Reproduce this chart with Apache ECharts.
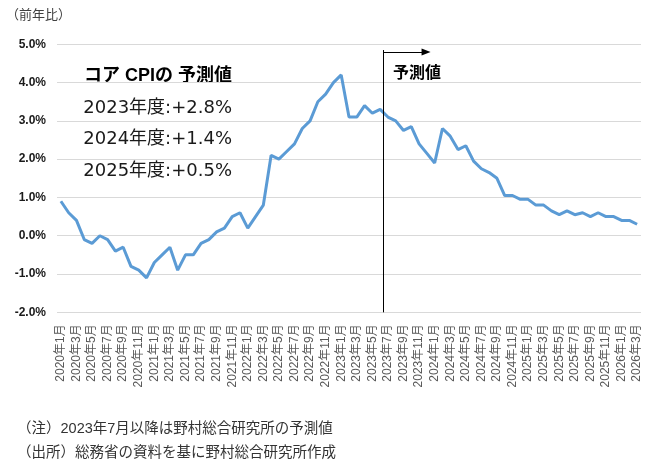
<!DOCTYPE html>
<html>
<head>
<meta charset="utf-8">
<script src="https://cdn.jsdelivr.net/npm/echarts@6/dist/echarts.min.js"></script>
<style>
html,body{margin:0;padding:0;background:#fff;}
#chart{width:655px;height:472px;}
</style>
</head>
<body>
<div id="chart"></div>
<script>
// ---- data ----
const startYear = 2020;
const monthCount = 75; // 2020年1月 .. 2026年3月
const v2020 = [0.9, 0.6, 0.4, -0.1, -0.2, 0.0, -0.1, -0.4, -0.3, -0.8, -0.9, -1.1];
const v2021 = [-0.7, -0.5, -0.3, -0.9, -0.5, -0.5, -0.2, -0.1, 0.1, 0.2, 0.5, 0.6];
const v2022 = [0.2, 0.5, 0.8, 2.1, 2.0, 2.2, 2.4, 2.8, 3.0, 3.5, 3.7, 4.0];
const v2023 = [4.2, 3.1, 3.1, 3.4, 3.2, 3.3, 3.1, 3.0, 2.75, 2.85, 2.4, 2.15];
const v2024 = [1.9, 2.8, 2.6, 2.25, 2.35, 1.95, 1.75, 1.65, 1.5, 1.05, 1.05, 0.95];
const v2025 = [0.95, 0.8, 0.8, 0.65, 0.55, 0.65, 0.55, 0.6, 0.5, 0.6, 0.5, 0.5];
const v2026 = [0.4, 0.4, 0.3];
const forecastStart = 41.4;   // position of the forecast divider (category index)
const forecastArrowEnd = 46.9;
const forecastTop = 4.85;
const arrowLevel = 4.8;
const yTicks = [-2, -1, 0, 1, 2, 3, 4, 5];
const annoTitle = 'コア CPIの 予測値';
const annoLines = ['2023年度:+2.8%', '2024年度:+1.4%', '2025年度:+0.5%'];
const notes = ['（注）2023年7月以降は野村総合研究所の予測値', '（出所）総務省の資料を基に野村総合研究所作成'];

const categories = [];
for (let i = 0; i < monthCount; i++) {
  categories.push((startYear + Math.floor(i / 12)) + '年' + (i % 12 + 1) + '月');
}
const values = [].concat(v2020, v2021, v2022, v2023, v2024, v2025, v2026);

const FONT = '"Liberation Sans", "Noto Sans CJK JP", sans-serif';
const WIDE = '"DejaVu Sans", "Noto Sans CJK JP", sans-serif';
const chart = echarts.init(document.getElementById('chart'), null, {renderer: 'canvas'});

const graphics = [
  {type: 'text', left: 6, top: 9, style: {text: '（前年比）', font: '13px ' + FONT, fill: '#404040'}},
  {type: 'text', left: 393, top: 66, style: {text: '予測値', font: 'bold 16px ' + FONT, fill: '#000'}},
  {type: 'text', x: 232, y: 76, style: {text: annoTitle, font: 'bold 18px ' + FONT, fill: '#000', align: 'right', verticalAlign: 'middle'}}
];
annoLines.forEach(function (t, i) {
  graphics.push({type: 'text', x: 232, y: 108 + i * 31.5, style: {text: t, font: '18px ' + WIDE, fill: '#1a1a1a', align: 'right', verticalAlign: 'middle'}});
});
notes.forEach(function (t, i) {
  graphics.push({type: 'text', left: 17, top: 422 + i * 24, style: {text: t, font: '14.5px ' + FONT, fill: '#333'}});
});

chart.setOption({
  animation: false,
  textStyle: {fontFamily: FONT},
  grid: {left: 57, right: 14, top: 44.3, bottom: 159.7},
  xAxis: [
    {
      type: 'category',
      data: categories,
      boundaryGap: true,
      axisLine: {show: false},
      axisTick: {show: false},
      axisLabel: {interval: 1, rotate: 90, color: '#595959', fontSize: 12, margin: 12, fontFamily: FONT}
    },
    {
      type: 'value', min: -0.5, max: 74.5, show: false
    }
  ],
  yAxis: {
    type: 'value',
    min: yTicks[0], max: yTicks[yTicks.length - 1], interval: 1,
    axisLine: {show: false},
    axisTick: {show: false},
    splitLine: {lineStyle: {color: '#d9d9d9', width: 1}},
    axisLabel: {formatter: function (v) { return v.toFixed(1) + '%'; }, fontWeight: 'bold', fontSize: 12, color: '#1a1a1a', margin: 11, fontFamily: FONT}
  },
  series: [
    {
      type: 'line',
      data: values,
      symbol: 'none',
      lineStyle: {color: '#5B9BD5', width: 3},
      itemStyle: {color: '#5B9BD5'}
    },
    {
      type: 'line',
      xAxisIndex: 1,
      data: [],
      symbol: 'none',
      silent: true,
      markLine: {
        silent: true,
        animation: false,
        label: {show: false},
        lineStyle: {color: '#000', width: 1, type: 'solid'},
        symbol: ['none', 'none'],
        data: [
          [{coord: [forecastStart, forecastTop]}, {coord: [forecastStart, yTicks[0]]}],
          [{coord: [forecastStart, arrowLevel], symbol: 'none'}, {coord: [forecastArrowEnd, arrowLevel], symbol: 'triangle', symbolSize: [7, 9], symbolRotate: -90}]
        ]
      }
    }
  ],
  graphic: graphics
});
</script>
</body>
</html>
